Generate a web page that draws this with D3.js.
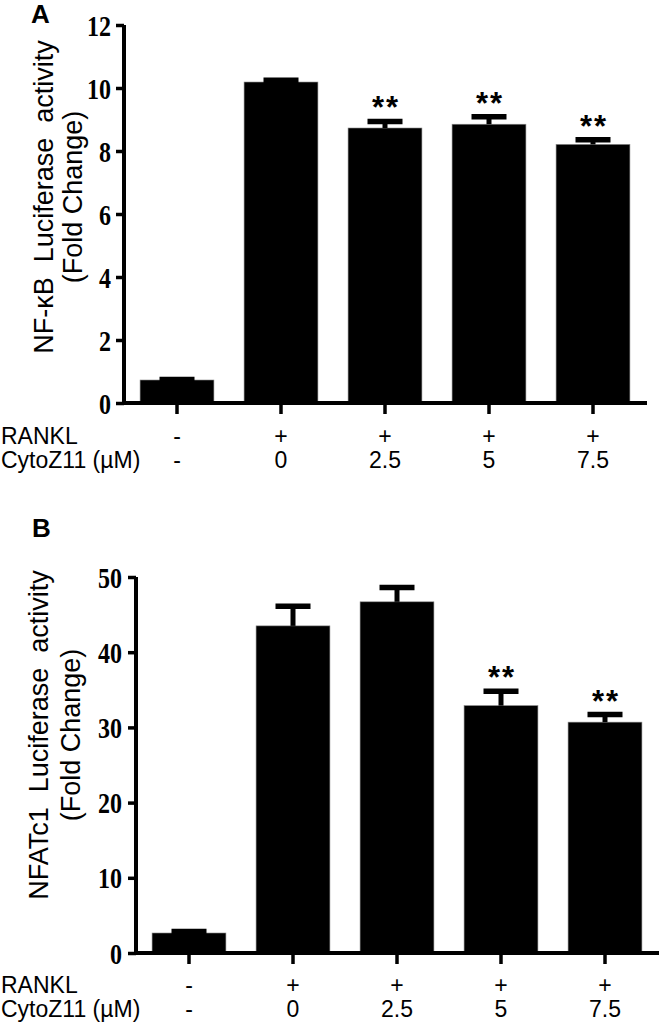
<!DOCTYPE html>
<html>
<head>
<meta charset="utf-8">
<script src="https://cdn.jsdelivr.net/npm/d3@7"></script>
<style>
  html, body { margin: 0; padding: 0; background: #fff; }
  svg { display: block; }
</style>
</head>
<body>
<svg id="chart" width="661" height="1025"></svg>
<script>
// ---- Data ----
const groups = ["g1", "g2", "g3", "g4", "g5"];
const ranklLabels = ["-", "+", "+", "+", "+"];
const cytoLabels = ["-", "0", "2.5", "5", "7.5"];

const nfkbMeans = [0.73, 10.19, 8.73, 8.85, 8.21];
const nfkbErrors = [0.02, 0.06, 0.21, 0.24, 0.15];
const nfkbSig = ["", "", "**", "**", "**"];
const nfkbTicks = [0, 2, 4, 6, 8, 10, 12];

const nfatMeans = [2.66, 43.5, 46.7, 32.9, 30.7];
const nfatErrors = [0.2, 2.6, 1.9, 1.9, 1.0];
const nfatSig = ["", "", "", "**", "**"];
const nfatTicks = [0, 10, 20, 30, 40, 50];

const svg = d3.select("#chart");

function panel(cfg) {
  const g = svg.append("g");
  const y = d3.scaleLinear().domain([0, cfg.yMax]).range([cfg.y0, cfg.yTop]);
  const x = d3.scaleBand().domain(groups).range([cfg.xStart, cfg.xStart + 520])
    .paddingInner(0.29).paddingOuter(0.145);

  // bars
  g.selectAll("rect.bar").data(cfg.means).enter().append("rect")
    .attr("class", "bar")
    .attr("x", (d, i) => x(groups[i]))
    .attr("width", x.bandwidth())
    .attr("y", d => y(d))
    .attr("height", d => y(0) - y(d))
    .attr("fill", "#000")
    .attr("stroke", "#888")
    .attr("stroke-width", 0.6);

  // error bars
  const capW = 35;
  cfg.means.forEach((m, i) => {
    const cx = x(groups[i]) + x.bandwidth() / 2;
    const top = y(m + cfg.errors[i]);
    g.append("line").attr("x1", cx).attr("x2", cx).attr("y1", y(m)).attr("y2", top)
      .attr("stroke", "#000").attr("stroke-width", 5);
    g.append("line").attr("x1", cx - capW / 2).attr("x2", cx + capW / 2).attr("y1", top).attr("y2", top)
      .attr("stroke", "#000").attr("stroke-width", 5.5);
    if (cfg.sig[i]) {
      const fs = 31;
      g.append("text").attr("x", cx + 1).attr("y", top - 2.75 - 18 + 0.57 * fs)
        .attr("text-anchor", "middle")
        .attr("font-family", "'Liberation Sans', Arial, sans-serif")
        .attr("font-weight", "bold").attr("font-size", fs)
        .attr("letter-spacing", 2)
        .text(cfg.sig[i]);
    }
  });

  // y axis
  const yAxis = d3.axisLeft(y).tickValues(cfg.ticks).tickSize(8).tickSizeOuter(0).tickPadding(0);
  const ga = g.append("g").attr("transform", `translate(${cfg.axisX},0)`).call(yAxis);
  ga.select(".domain").attr("stroke", "#000").attr("stroke-width", 4)
    .attr("d", `M0,${y(cfg.yMax)}V${y(0)}`);
  ga.selectAll(".tick line").attr("stroke", "#000").attr("stroke-width", 3.5);
  const sx = 0.8;
  ga.selectAll(".tick text")
    .attr("font-family", "'Liberation Serif', 'Times New Roman', serif")
    .attr("font-weight", "bold")
    .attr("font-size", 30)
    .attr("fill", "#000")
    .attr("dy", null)
    .attr("y", 10)
    .attr("x", -cfg.labelGap / sx)
    .attr("transform", `scale(${sx},1)`);

  // x axis line
  g.append("line").attr("x1", cfg.axisX - 2).attr("x2", cfg.xStart + 522)
    .attr("y1", y(0)).attr("y2", y(0)).attr("stroke", "#000").attr("stroke-width", 4);
  const xAxis = d3.axisBottom(x).tickSize(11).tickSizeOuter(0).tickFormat("");
  const gx = g.append("g").attr("transform", `translate(0,${y(0)})`).call(xAxis);
  gx.select(".domain").remove();
  gx.selectAll(".tick line").attr("stroke", "#000").attr("stroke-width", 3.5);

  // row labels
  const font = "'Liberation Sans', Arial, sans-serif";
  const rfs = 23;
  g.append("text").attr("x", 1).attr("y", cfg.row1).attr("font-family", font).attr("font-size", rfs).text("RANKL");
  g.append("text").attr("x", 1).attr("y", cfg.row2).attr("font-family", font).attr("font-size", rfs).text("CytoZ11 (µM)");
  g.selectAll("text.r1").data(ranklLabels).enter().append("text").attr("class", "r1")
    .attr("x", (d, i) => x(groups[i]) + x.bandwidth() / 2).attr("y", cfg.row1)
    .attr("text-anchor", "middle").attr("font-family", font).attr("font-size", rfs).text(d => d);
  g.selectAll("text.r2").data(cytoLabels).enter().append("text").attr("class", "r2")
    .attr("x", (d, i) => x(groups[i]) + x.bandwidth() / 2).attr("y", cfg.row2)
    .attr("text-anchor", "middle").attr("font-family", font).attr("font-size", rfs).text(d => d);

  // y title
  const tfs = 27;
  g.append("text").attr("transform", `translate(${cfg.t1x},${cfg.tCy}) rotate(-90)`)
    .attr("text-anchor", "middle").attr("font-family", font).attr("font-size", tfs)
    .attr("xml:space", "preserve").style("white-space", "pre")
    .text(cfg.title1);
  g.append("text").attr("transform", `translate(${cfg.t2x},${cfg.tCy}) rotate(-90)`)
    .attr("text-anchor", "middle").attr("font-family", font).attr("font-size", tfs)
    .text("(Fold Change)");

  // panel letter
  g.append("text").attr("x", cfg.letterX).attr("y", cfg.letterY)
    .attr("font-family", font).attr("font-weight", "bold").attr("font-size", 26).text(cfg.letter);
}

panel({
  means: nfkbMeans, errors: nfkbErrors, sig: nfkbSig, ticks: nfkbTicks,
  yMax: 12, y0: 403, yTop: 25, xStart: 125, axisX: 124, labelGap: 13,
  row1: 444, row2: 468, t1x: 53, t2x: 82, tCy: 197,
  title1: "NF-κB  Luciferase  activity", letter: "A", letterX: 31, letterY: 23
});

panel({
  means: nfatMeans, errors: nfatErrors, sig: nfatSig, ticks: nfatTicks,
  yMax: 50, y0: 953, yTop: 577, xStart: 137, axisX: 136, labelGap: 14,
  row1: 993, row2: 1017, t1x: 48, t2x: 80, tCy: 735,
  title1: "NFATc1  Luciferase  activity", letter: "B", letterX: 32, letterY: 537
});
</script>
</body>
</html>
